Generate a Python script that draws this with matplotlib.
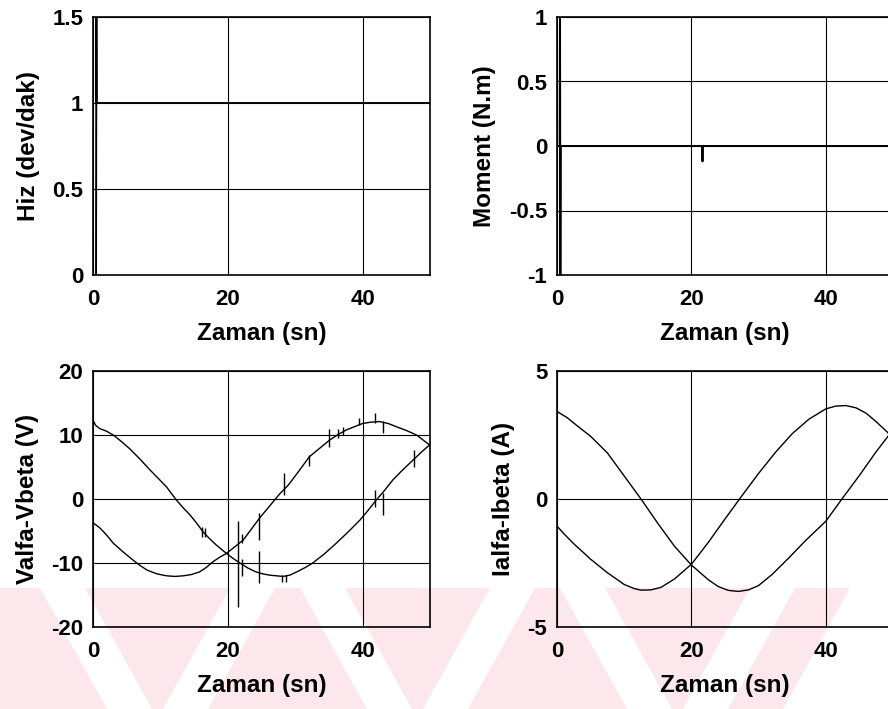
import numpy as np
import matplotlib.pyplot as plt
from matplotlib.patches import Polygon

plt.rcParams['font.family'] = ['Liberation Sans', 'DejaVu Sans']
plt.rcParams['font.weight'] = 'bold'
plt.rcParams['axes.unicode_minus'] = False

# hiz (dev/dak)
t_hiz = [0, 0.45, 0.5, 0.55, 50]
hiz = [0, 0, 1.6, 1.0, 1.0]

# moment (N.m)
t_mom = [0, 0.4, 0.45, 0.5, 0.55, 21.6, 21.65, 21.7, 50]
mom = [0, 0, 1.2, -1.2, 0, 0, -0.12, 0, 0]

# valfa / vbeta (V)
t_va = [0, 0.4, 1, 2, 3, 4.2, 5.5, 7, 8.4, 9.7, 10.9, 12.4, 13.4, 14.4, 15.4, 16.3,
        17.3, 18.3, 19.8, 20.8, 21.8, 23, 24.2, 25.2, 26.2, 27.2, 28.2, 29.2, 30.4,
        31.5, 32.6, 34.3, 36.1, 37.9, 39.6, 40.8, 42, 43.3, 44.5, 46, 47.5, 48.8, 50]
va = [12.3, 11.5, 11.0, 10.6, 10.0, 9.0, 7.8, 6.2, 4.6, 3.2, 1.9, -0.2, -1.4, -2.5, -3.8, -5.1,
      -6.2, -7.2, -8.5, -9.3, -10.0, -10.8, -11.4, -11.7, -11.9, -12.0, -12.1, -11.9, -11.3,
      -10.7, -10.0, -8.6, -6.9, -5.1, -3.3, -1.8, -0.2, 1.4, 3.0, 4.6, 6.1, 7.4, 8.5]
t_vb = [0, 1, 2, 3, 4.5, 6, 7, 8, 9.5, 10.9, 12.2, 13.4, 14.6, 15.8, 16.8, 17.8, 18.8,
        19.8, 21, 22.3, 23.5, 24.7, 26.2, 27.7, 29, 30.5, 32.1, 33.6, 35.1, 36.4, 37.6,
        38.8, 40, 41.2, 42.5, 43.8, 45, 46.5, 48, 49, 50]
vb = [-3.7, -4.5, -5.6, -6.9, -8.3, -9.6, -10.4, -11.1, -11.7, -12.0, -12.1, -12.0, -11.8,
      -11.4, -10.7, -9.8, -9.1, -8.5, -7.5, -6.4, -4.7, -3.0, -1.1, 0.8, 2.2, 4.3, 6.6,
      7.9, 9.2, 10.1, 10.8, 11.3, 11.8, 12.0, 12.1, 11.8, 11.3, 10.7, 10.0, 9.2, 8.4]
# ani sicramalar: zaman, alt, ust
spk_t = [16.1, 16.6, 21.5, 22.1, 22.1, 24.6, 24.6, 28.0, 28.6, 28.4, 32.1, 35.0,
         36.3, 37.1, 39.5, 41.8, 43.0, 43.0, 41.8, 47.6]
spk_lo = [-6.0, -6.0, -16.9, -6.9, -12.1, -6.4, -13.2, -13.0, -13.0, 0.6, 5.2, 8.2,
          9.6, 10.0, 11.6, 11.8, 10.3, -2.5, -1.2, 5.0]
spk_hi = [-4.3, -4.5, -3.5, -5.4, -9.3, -2.2, -8.2, -11.8, -11.8, 4.0, 6.9, 11.0,
          10.9, 11.2, 12.6, 13.4, 12.2, 0.9, 1.4, 7.6]

# ialfa / ibeta (A)
t_ia = [0, 1.5, 3, 5, 7.5, 10, 12.5, 15, 17.5, 20, 22.5, 24, 25.5, 27, 28.5, 30, 32,
        34.5, 37, 40, 42.4, 45, 47.5, 50]
ia = [3.42, 3.18, 2.86, 2.45, 1.8, 0.9, 0.0, -0.95, -1.85, -2.58, -3.15, -3.42, -3.57,
      -3.61, -3.55, -3.38, -2.95, -2.3, -1.62, -0.87, 0.0, 0.92, 1.85, 2.7]
t_ib = [0, 1, 2.5, 5, 7.5, 10, 11.5, 12.5, 14, 15.5, 17.5, 20, 22.5, 25, 27.5, 30, 32.5,
        35, 37.5, 40, 41.5, 43, 44.5, 46, 47.5, 49, 50]
ib = [-1.06, -1.35, -1.75, -2.35, -2.88, -3.34, -3.5, -3.56, -3.55, -3.45, -3.12, -2.55,
      -1.7, -0.78, 0.12, 1.0, 1.82, 2.55, 3.12, 3.52, 3.63, 3.65, 3.56, 3.35, 3.02, 2.65, 2.4]

W, H = 888, 709
fig = plt.figure(figsize=(W / 100, H / 100), dpi=100)

# pembe filigran (arka plan)
def px(x, y):
    return (x / W, 1 - y / H)

pink = '#fce8ec'
base = [px(0, 588), px(850, 588), px(783, 709), px(0, 709)]
fig.patches.append(Polygon(base, closed=True, transform=fig.transFigure,
                           facecolor=pink, edgecolor='none', zorder=-5))
for x0, d in [(40, 1), (300, 1), (560, 1), (230, -1), (490, -1), (750, -1)]:
    stripe = [px(x0, 588), px(x0 + 45, 588), px(x0 + 45 + d * 67, 709), px(x0 + d * 67, 709)]
    fig.patches.append(Polygon(stripe, closed=True, transform=fig.transFigure,
                               facecolor='white', edgecolor='none', zorder=-4))

boxes = [
    (93, 17, 430, 275),
    (557, 17, 893, 275),
    (93, 371, 430, 627),
    (557, 371, 893, 627),
]
axes = []
for x0, y0, x1, y1 in boxes:
    ax = fig.add_axes([x0 / W, 1 - y1 / H, (x1 - x0) / W, (y1 - y0) / H])
    ax.set_facecolor('none')
    ax.set_xlim(0, 50)
    ax.set_xticks([0, 20, 40])
    ax.grid(True, color='black', lw=0.8)
    ax.set_axisbelow(True)
    ax.tick_params(length=0, labelsize=16, pad=7)
    ax.tick_params(axis='x', pad=10)
    for s in ax.spines.values():
        s.set_linewidth(1.2)
    ax.set_xlabel('Zaman (sn)', fontsize=17.5, fontweight='bold', labelpad=9)
    axes.append(ax)

a1, a2, a3, a4 = axes

a1.plot(t_hiz, hiz, color='black', lw=1.4)
a1.set_ylim(0, 1.5)
a1.set_yticks([0, 0.5, 1, 1.5])
a1.set_yticklabels(['0', '0.5', '1', '1.5'])
a1.set_ylabel('Hiz (dev/dak)', fontsize=17.5, fontweight='bold', labelpad=9)

a2.plot(t_mom, mom, color='black', lw=1.4)
a2.set_ylim(-1, 1)
a2.set_yticks([-1, -0.5, 0, 0.5, 1])
a2.set_yticklabels(['-1', '-0.5', '0', '0.5', '1'])
a2.set_ylabel('Moment (N.m)', fontsize=17.5, fontweight='bold', labelpad=9)

a3.plot(t_va, va, color='black', lw=1.0)
a3.plot(t_vb, vb, color='black', lw=1.0)
a3.vlines(spk_t, spk_lo, spk_hi, color='black', lw=1.0)
a3.set_ylim(-20, 20)
a3.set_yticks([-20, -10, 0, 10, 20])
a3.set_ylabel('Valfa-Vbeta (V)', fontsize=17.5, fontweight='bold', labelpad=9)

a4.plot(t_ia, ia, color='black', lw=1.0)
a4.plot(t_ib, ib, color='black', lw=1.0)
a4.set_ylim(-5, 5)
a4.set_yticks([-5, 0, 5])
a4.set_ylabel('Ialfa-Ibeta (A)', fontsize=17.5, fontweight='bold', labelpad=9)

fig.savefig('out.png', dpi=100)
